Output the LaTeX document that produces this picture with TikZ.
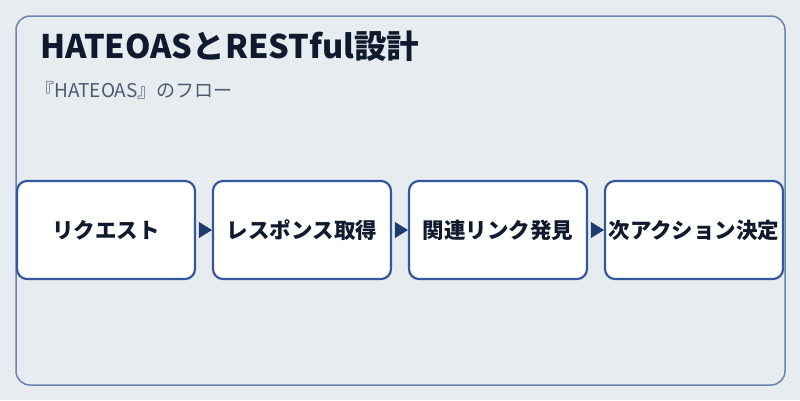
\documentclass[tikz,border=0pt]{standalone}
\usepackage{fontspec}
\setmainfont{Noto Sans CJK JP}
\usepackage{tikz}
\usetikzlibrary{positioning, arrows.meta}
\definecolor{bgcol}{HTML}{E7ECF1}
\definecolor{framecol}{HTML}{6D84AE}
\definecolor{boxcol}{HTML}{3457A0}
\definecolor{arrowcol}{HTML}{1E3A6E}
\definecolor{textcol}{HTML}{0F1A2E}
\definecolor{subcol}{HTML}{4B5B72}
\tikzset{stepbox/.style={draw=boxcol, line width=2.2pt, fill=white, rounded corners=10pt, minimum width=178pt, minimum height=98pt, inner sep=0pt, text=textcol, font=\fontsize{21.5}{25}\selectfont\bfseries}}
\tikzset{flow/.style={draw=arrowcol, line width=0.6pt, -{Triangle[length=13pt, width=16pt]}, arrowcol, shorten <=4pt}}

\begin{document}
\begin{tikzpicture}[x=1pt, y=-1pt]
            \fill[bgcol] (0, 0) rectangle (800, 400);
            \useasboundingbox (0, 0) rectangle (800, 400);
            \draw[framecol, line width=1.5pt, rounded corners=14pt] (16, 16) rectangle (785, 385);
            \node[anchor=base west, text=textcol, font=\fontsize{32.5}{36}\selectfont\bfseries, inner sep=0pt] (title) at (40, 58) {HATEOASとRESTful設計};
            \node[anchor=base west, text=subcol, font=\fontsize{19}{22}\selectfont, inner sep=0pt] (subtitle) at (35, 97) {『HATEOAS』のフロー};
            \node[stepbox] (request) at (106, 230) {リクエスト};
            \node[stepbox, right=15.8pt of request] (response) {レスポンス取得};
            \node[stepbox, right=15.8pt of response] (links) {関連リンク発見};
            \node[stepbox, right=15.8pt of links] (next) {次アクション決定};
            \draw[flow] (request) -- (response);
            \draw[flow] (response) -- (links);
            \draw[flow] (links) -- (next);
        \end{tikzpicture}
\end{document}
